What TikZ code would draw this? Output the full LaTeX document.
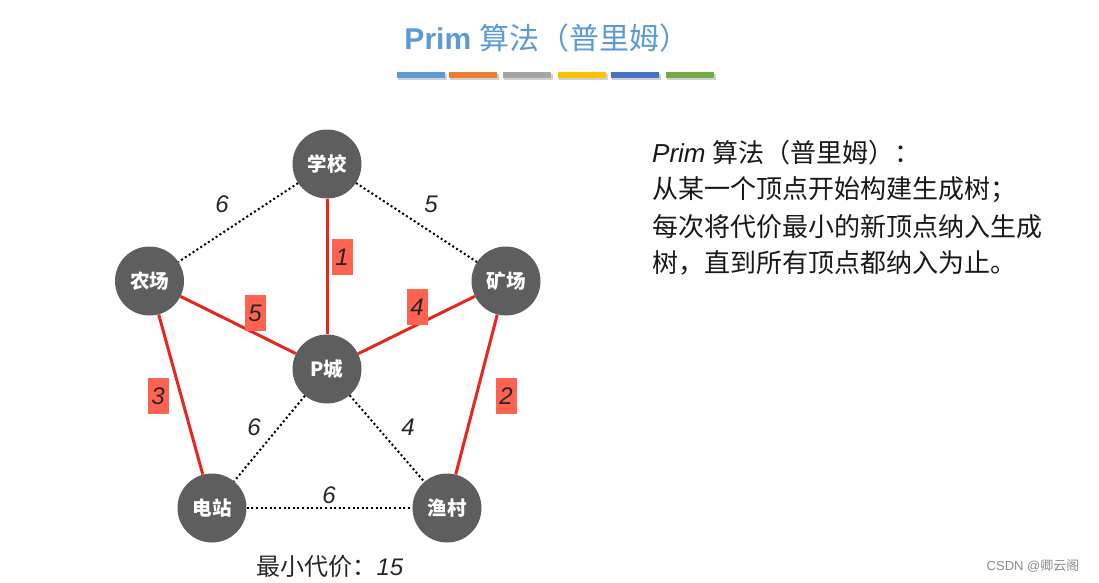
\documentclass[tikz,border=0pt]{standalone}
\usepackage{fontspec}
\setmainfont{Liberation Sans}
\newfontfamily\cjk{Noto Sans CJK SC}
\definecolor{titleblue}{RGB}{91,155,213}
\definecolor{nodegray}{RGB}{94,94,94}
\definecolor{edgered}{RGB}{232,38,28}
\definecolor{boxred}{RGB}{255,98,80}
\definecolor{bar1}{RGB}{91,155,213}
\definecolor{bar2}{RGB}{237,125,49}
\definecolor{bar3}{RGB}{165,165,165}
\definecolor{bar4}{RGB}{255,192,0}
\definecolor{bar5}{RGB}{68,114,196}
\definecolor{bar6}{RGB}{112,173,71}
\tikzset{
  city/.style={circle,fill=nodegray,minimum size=69pt,inner sep=0pt,text=white,font=\fontsize{19.5}{22}\selectfont\bfseries\cjk},
  tree/.style={draw=edgered,line width=3pt},
  other/.style={draw=black,line width=2pt,dash pattern=on 2pt off 2.6pt},
  wlabel/.style={font=\fontsize{24}{26}\selectfont\itshape,text=black!85,inner sep=0pt},
  redbox/.style={fill=boxred,font=\fontsize{24}{26}\selectfont\itshape,text=black!85,inner sep=1.5pt,minimum width=21pt,minimum height=36pt},
  bodytext/.style={anchor=west,inner sep=0pt,font=\fontsize{26}{30}\selectfont,text=black!90}
}
\begin{document}
\begin{tikzpicture}[x=1pt,y=-1pt]
\useasboundingbox[fill=white] (0,0) rectangle (1099,582);
% title
\node[font=\fontsize{30}{34}\selectfont\bfseries,text=titleblue] (title) at (547,38) {Prim {\cjk\mdseries 算法（普里姆）}};
% bars
\foreach \x/\c in {397/bar1,449/bar2,503/bar3,558/bar4,611/bar5,666/bar6}{
  \fill[black,opacity=0.18] (\x+1,73.5) rectangle (\x+50,80);
  \fill[\c] (\x,72) rectangle (\x+48,78);
}
% nodes
\node[city] (xx) at (327,164) {学校};
\node[city] (nc) at (149.5,281) {农场};
\node[city] (kc) at (506,281) {矿场};
\node[city] (pc) at (327,369) {P城};
\node[city] (dz) at (212,508) {电站};
\node[city] (yc) at (447,508) {渔村};
% dotted edges
\draw[other] (xx) -- (nc);
\draw[other] (xx) -- (kc);
\draw[other] (pc) -- (dz);
\draw[other] (pc) -- (yc);
\draw[other] (dz) -- (yc);
% tree edges
\draw[tree] (xx) -- (pc);
\draw[tree] (nc) -- (pc);
\draw[tree] (kc) -- (pc);
\draw[tree] (nc) -- (dz);
\draw[tree] (kc) -- (yc);
% weight labels
\node[wlabel] (w1) at (222,204) {6};
\node[wlabel] (w2) at (431,204) {5};
\node[wlabel] (w3) at (254,427) {6};
\node[wlabel] (w4) at (408,427) {4};
\node[wlabel] (w5) at (329,495) {6};
\node[redbox] (r1) at (342,257) {1};
\node[redbox] (r5) at (255,313) {5};
\node[redbox] (r4) at (417,307) {4};
\node[redbox] (r3) at (158,396) {3};
\node[redbox] (r2) at (506,396) {2};
% cost
\node[inner sep=0pt,font=\fontsize{24}{26}\selectfont,text=black!85] (cost) at (330,566) {{\cjk 最小代价：}\textit{15}};
% right text
\node[bodytext] (t1) at (652,153) {\textit{Prim} {\cjk 算法（普里姆）：}};
\node[bodytext] (t2) at (652,190) {\cjk 从某一个顶点开始构建生成树；};
\node[bodytext] (t3) at (652,227) {\cjk 每次将代价最小的新顶点纳入生成};
\node[bodytext] (t4) at (652,263) {\cjk 树，直到所有顶点都纳入为止。};
% watermark
\node[inner sep=0pt,font=\fontsize{13}{15}\selectfont,text=black!45] (wm) at (1033,566) {CSDN @{\cjk 卿云阁}};
\end{tikzpicture}
\end{document}
